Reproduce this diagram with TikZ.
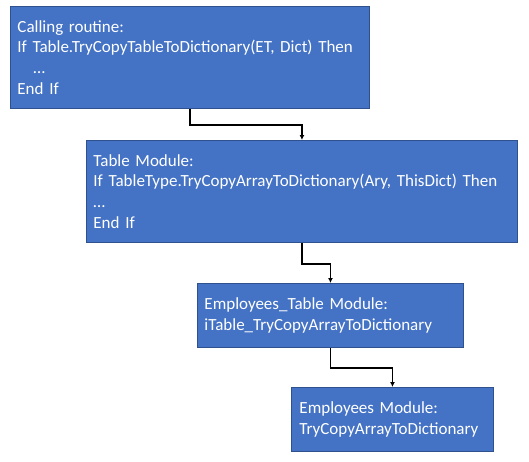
\documentclass[tikz,border=0pt]{standalone}
\usepackage{fontspec}
\setmainfont[WordSpace=0.85]{Carlito}
\usetikzlibrary{arrows.meta}
\definecolor{boxfill}{HTML}{4472C4}
\definecolor{boxline}{HTML}{2F528F}
\tikzset{
  codebox/.style={draw=boxline, line width=0.9pt, fill=boxfill, text=white,
    anchor=north west, inner xsep=7pt, inner ysep=0pt, align=left,
    font=\fontsize{17}{20.8}\selectfont},
  conn/.style={draw=black, line width=1.6pt, -{Latex[length=5pt,width=5pt]}}
}
\begin{document}
\begin{tikzpicture}[x=1pt,y=-1pt]
\useasboundingbox (0,0) rectangle (529,461);
\node[codebox, text width=345pt, minimum height=102pt] (b1) at (10,6)
  {Calling routine:\\If Table.TryCopyTableToDictionary(ET, Dict) Then\\\hspace*{16pt}…\\End If};
\node[codebox, text width=417pt, minimum height=102pt] (b2) at (86,140)
  {Table Module:\\If TableType.TryCopyArrayToDictionary(Ary, ThisDict) Then\\…\\End If};
\node[codebox, text width=252pt, minimum height=64pt] (b3) at (197,283)
  {Employees\_Table Module:\\iTable\_TryCopyArrayToDictionary};
\node[codebox, inner xsep=8pt, text width=186pt, minimum height=64pt] (b4) at (291,387)
  {Employees Module:\\TryCopyArrayToDictionary};
\draw[conn] (b1.south) -- ++(0,16) -| (b2.north);
\draw[conn] (b2.south) -- ++(0,21) -| (b3.north);
\draw[conn] (b3.south) -- ++(0,20) -| (b4.north);
\end{tikzpicture}
\end{document}
